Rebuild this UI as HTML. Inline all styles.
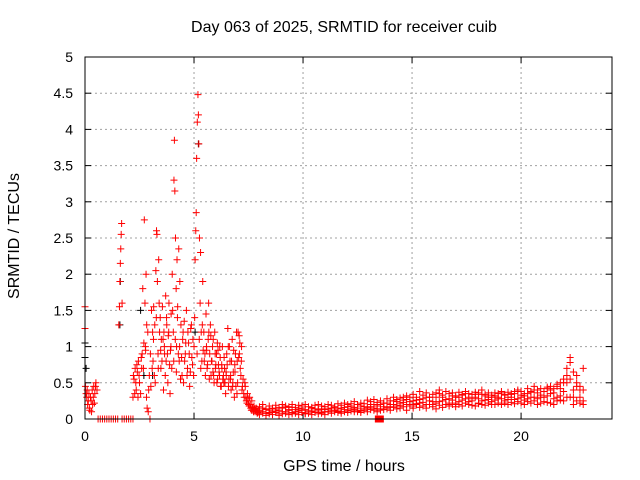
<!DOCTYPE html>
<html><head><meta charset="utf-8"><style>
body{margin:0;background:#fff}
svg{display:block;font-family:"Liberation Sans",sans-serif;font-size:14px}
</style></head><body>
<svg id="c" width="640" height="480"></svg>
<script>
const redT=[0,0,0.02,0.05,0.1,0.15,0.2,0.25,0.3,0.35,0.4,0.45,0.5,0.55,
0.6,0.7,0.8,0.9,1.0,1.1,1.2,1.3,1.4,1.5,1.7,1.8,1.9,2.0,2.1,2.2,
1.55,1.58,1.6,1.62,1.64,1.66,1.68,1.7,
2.2,2.25,2.3,2.35,2.4,2.45,2.5,2.55,2.6,
2.62,2.65,2.7,2.72,2.75,2.78,2.8,2.82,2.85,2.88,2.9,2.95,2.98,
3.02,3.05,3.1,3.12,3.15,3.18,3.2,3.25,3.28,3.3,3.32,3.35,3.38,3.4,3.45,3.48,3.5,
3.55,3.6,3.62,3.65,3.7,3.72,3.75,3.8,3.82,3.85,3.9,3.92,3.95,3.98,
4.0,4.05,4.08,4.1,4.12,4.15,4.18,4.2,4.22,4.25,4.3,4.32,4.35,4.4,4.45,4.48,
4.52,4.55,4.6,4.65,4.7,4.75,4.8,4.85,4.9,4.95,4.98,
5.0,5.05,5.08,5.1,5.12,5.15,5.18,5.2,5.22,5.25,5.28,5.3,5.33,5.36,5.4,
5.45,5.5,5.55,5.6,5.65,5.7,5.75,5.8,5.85,5.9,5.95,6.0,6.05,6.1,6.15,6.2,6.25,6.3,6.35,6.4,6.45,6.5,6.55,6.6,6.65,6.7,6.75,6.8,6.85,6.9,6.95,7.0,7.05,7.1,7.15,7.2,
5.47,5.57,5.67,5.77,5.87,5.97,6.07,6.17,6.27,6.37,6.47,6.57,6.67,6.77,6.87,6.97,7.07,7.17,
7.25,7.3,7.35,7.4,7.45,7.5,7.55,7.6,7.65,7.7,7.75,7.8,7.85,7.9,7.95];
const redV=[1.55,1.25,0.45,0.35,0.4,0.25,0.15,0.3,0.1,0.2,0.45,0.35,0.5,0.4,
0,0,0,0,0,0,0,0,0,0,0,0,0,0,0,0,
1.3,1.55,1.9,2.15,2.35,2.55,2.7,1.6,
0.3,0.55,0.7,0.4,0.65,0.8,0.5,0.35,0.7,
0.9,1.8,1.05,2.75,1.6,0.95,2.0,0.3,0.15,1.2,0.1,0.6,0.0,
0.45,1.5,1.2,0.8,1.55,0.6,1.3,2.05,2.6,2.55,1.9,0.9,2.2,1.6,1.4,0.7,1.1,
1.55,0.4,1.2,0.9,1.7,0.8,1.3,0.5,1.15,1.6,0.35,0.95,1.45,0.7,
2.0,1.2,3.3,3.85,3.15,2.5,1.8,1.0,2.2,1.55,2.35,0.8,1.9,1.3,0.6,1.1,
0.5,1.35,0.9,1.5,0.7,1.05,0.45,1.25,0.85,1.1,0.6,
1.0,2.2,2.6,2.85,3.6,4.1,4.48,4.2,3.8,2.5,1.6,2.3,1.2,0.8,1.9,
1.2,0.9,1.45,0.7,1.1,0.55,1.3,0.8,1.0,0.6,1.2,0.75,0.5,0.95,0.65,0.85,0.45,1.0,0.6,0.7,0.35,0.9,1.25,0.55,0.8,0.4,1.1,0.65,0.3,0.9,1.2,0.5,0.85,1.05,0.6,0.4,
0.8,1.0,1.6,1.15,0.65,0.9,1.05,0.6,0.75,0.5,0.65,1.0,0.55,0.45,0.75,0.35,1.15,0.8,
0.55,0.3,0.45,0.25,0.35,0.2,0.3,0.15,0.25,0.12,0.18,0.1,0.15,0.08,0.12];
const burstT=[0.08,0.12,0.18,0.22,0.28,0.33,0.38,0.43,0.48,2.22,2.28,2.33,2.38,2.43,2.48,2.58,2.68,2.77,2.83,2.92,3.0,3.08,3.14,3.22,3.27,3.36,3.42,3.47,3.53,3.58,3.64,3.68,3.74,3.78,3.84,3.88,3.94,4.02,4.07,4.14,4.19,4.24,4.28,4.34,4.38,4.43,4.5,4.57,4.62,4.68,4.72,4.78,4.83,4.88,4.93,5.03,5.14,5.24,5.31,5.38,5.42,5.52,5.58,5.62,5.68,5.72,5.78,5.82,5.88,5.92,5.98,6.03,6.08,6.12,6.18,6.22,6.28,6.32,6.38,6.42,6.48,6.52,6.58,6.62,6.68,6.72,6.78,6.82,6.88,6.92,6.98,7.02,7.08,7.12,7.18,7.22,7.28,7.33,7.38,7.43,7.48,7.53,7.58,7.63,7.68,7.73,7.78,7.83,7.88,7.93];
const burstV=[0.3,0.2,0.35,0.12,0.25,0.4,0.3,0.22,0.45,0.6,0.35,0.5,0.75,0.3,0.6,0.85,0.7,1.0,1.3,0.4,0.9,0.7,1.1,0.5,1.4,0.7,1.2,0.95,0.8,1.1,1.0,0.6,1.4,0.9,1.2,0.75,1.0,1.5,0.8,1.1,0.65,1.4,0.9,1.0,0.55,0.85,1.2,0.8,1.05,0.6,1.2,0.9,0.65,1.3,0.75,1.4,0.9,1.1,0.7,1.3,0.95,0.6,0.95,0.75,1.2,0.9,0.6,0.8,1.1,0.5,0.7,0.9,0.55,0.75,1.0,0.45,0.7,0.55,0.85,0.5,0.6,0.75,0.45,1.0,0.6,0.8,0.5,0.95,0.65,0.45,0.8,1.2,0.9,0.7,1.0,0.45,0.35,0.5,0.3,0.22,0.28,0.18,0.2,0.12,0.16,0.1,0.14,0.12,0.1,0.09];
const tailT=[8.0,8.15,8.3,8.45,8.6,8.75,8.9,9.05,9.2,9.35,9.5,9.65,9.8,9.95,10.1,10.25,10.4,10.55,10.7,10.85,11.0,11.15,11.3,11.45,11.6,11.75,11.9,12.05,12.2,12.35,12.5,12.65,12.8,12.95,13.1,13.25,13.4,13.55,13.7,13.85,14.0,14.15,14.3,14.45,14.6,14.75,14.9,15.05,15.2,15.35,15.5,15.65,15.8,15.95,16.1,16.25,16.4,16.55,16.7,16.85,17.0,17.15,17.3,17.45,17.6,17.75,17.9,18.05,18.2,18.35,18.5,18.65,18.8,18.95,19.1,19.25,19.4,19.55,19.7,19.85,20.0,20.15,20.3,20.45,20.6,20.75,20.9,21.05,21.2,21.35,21.5,21.65,21.8,21.95,22.1,22.25,22.4,22.55,22.7,22.85];
const tailV=[0.1,0.15,0.08,0.12,0.1,0.14,0.07,0.1,0.16,0.12,0.09,0.13,0.11,0.15,0.08,0.12,0.1,0.14,0.11,0.09,0.13,0.1,0.15,0.12,0.14,0.1,0.16,0.12,0.18,0.13,0.15,0.11,0.17,0.14,0.2,0.15,0.18,0.12,0.22,0.16,0.2,0.25,0.18,0.22,0.3,0.2,0.24,0.18,0.26,0.22,0.28,0.2,0.3,0.24,0.22,0.35,0.25,0.2,0.28,0.32,0.22,0.3,0.26,0.35,0.24,0.28,0.3,0.22,0.34,0.26,0.3,0.24,0.32,0.28,0.36,0.25,0.3,0.34,0.27,0.38,0.3,0.26,0.35,0.3,0.4,0.28,0.33,0.3,0.42,0.35,0.28,0.45,0.32,0.38,0.5,0.85,0.4,0.6,0.3,0.25];
const tailV2=[0.12,0.1,0.13,0.09,0.14,0.11,0.12,0.15,0.1,0.13,0.16,0.1,0.14,0.12,0.13,0.1,0.15,0.11,0.13,0.14,0.1,0.14,0.12,0.16,0.11,0.15,0.13,0.17,0.14,0.16,0.12,0.18,0.14,0.16,0.17,0.2,0.14,0.2,0.17,0.22,0.17,0.2,0.24,0.19,0.23,0.27,0.2,0.25,0.21,0.27,0.23,0.3,0.25,0.2,0.3,0.24,0.3,0.27,0.22,0.26,0.3,0.24,0.33,0.28,0.3,0.25,0.34,0.28,0.25,0.32,0.27,0.3,0.26,0.3,0.28,0.33,0.27,0.3,0.35,0.28,0.33,0.32,0.28,0.38,0.3,0.36,0.3,0.38,0.32,0.4,0.36,0.3,0.42,0.5,0.7,0.55,0.3,0.45,0.4,0.7];
const tailHi=[0.17,0.2,0.14,0.18,0.15,0.19,0.16,0.2,0.18,0.17,0.2,0.16,0.19,0.18,0.2,0.17,0.16,0.19,0.2,0.18,0.17,0.2,0.19,0.17,0.21,0.19,0.22,0.2,0.21,0.24,0.2,0.22,0.21,0.26,0.24,0.27,0.23,0.25,0.22,0.28,0.25,0.3,0.27,0.29,0.26,0.32,0.3,0.34,0.3,0.38,0.33,0.36,0.3,0.34,0.36,0.4,0.33,0.38,0.35,0.36,0.32,0.37,0.34,0.38,0.35,0.34,0.37,0.36,0.4,0.34,0.36,0.33,0.36,0.35,0.38,0.34,0.37,0.35,0.38,0.4,0.38,0.35,0.42,0.37,0.45,0.4,0.42,0.38,0.44,0.45,0.42,0.48,0.5,0.55,0.6,0.78,0.65,0.5,0.45,0.4];
const tailLo=[0.06,0.08,0.05,0.07,0.06,0.09,0.05,0.07,0.08,0.06,0.07,0.08,0.06,0.09,0.07,0.08,0.06,0.09,0.07,0.08,0.06,0.1,0.08,0.1,0.09,0.08,0.1,0.09,0.11,0.1,0.1,0.09,0.12,0.1,0.13,0.12,0.1,0.14,0.13,0.14,0.12,0.16,0.14,0.15,0.17,0.12,0.18,0.15,0.2,0.16,0.18,0.15,0.2,0.17,0.14,0.19,0.16,0.2,0.18,0.2,0.17,0.2,0.18,0.22,0.2,0.19,0.18,0.21,0.2,0.19,0.22,0.2,0.2,0.22,0.2,0.22,0.2,0.23,0.21,0.24,0.22,0.2,0.24,0.22,0.25,0.2,0.22,0.24,0.23,0.22,0.2,0.25,0.26,0.25,0.3,0.3,0.2,0.25,0.22,0.2];
const blackT=[0,0,0.05,1.6,1.62,2.55,2.7,3.1,5.2,5.05];
const blackV=[0.85,1.05,0.7,1.3,1.9,1.5,0.6,0.6,3.8,1.2];
const squareT=[13.5];
const squareV=[0];
const xTicks=[0,5,10,15,20];
const yTicks=[0,0.5,1,1.5,2,2.5,3,3.5,4,4.5,5];
const yTickLabels=["0","0.5","1","1.5","2","2.5","3","3.5","4","4.5","5"];

const L=85,R=612,T=57,B=419,XMAX=24.17,YMAX=5;
const X=v=>L+v/XMAX*(R-L), Y=v=>B-v/YMAX*(B-T);
const svg=document.getElementById('c'),NS='http://www.w3.org/2000/svg';
function mk(tag,at,parent){const e=document.createElementNS(NS,tag);for(const k in at)e.setAttribute(k,at[k]);(parent||svg).appendChild(e);return e;}
const grid=mk('g',{});


yTicks.forEach((t,i)=>{
  if(t>0&&t<YMAX){mk('line',{x1:L,x2:R,y1:Y(t),y2:Y(t),stroke:'#a0a0a0','stroke-dasharray':'2,3'},grid);}
  mk('line',{x1:L,x2:L+6,y1:Y(t),y2:Y(t),stroke:'#000'},grid);
  mk('line',{x1:R,x2:R-6,y1:Y(t),y2:Y(t),stroke:'#000'},grid);
  const tx=mk('text',{x:L-12,y:Y(t)+5,'text-anchor':'end'});
  
  
  tx.textContent=yTickLabels[i];
});
xTicks.forEach(t=>{
  if(t>0)mk('line',{x1:X(t),x2:X(t),y1:T,y2:B,stroke:'#a0a0a0','stroke-dasharray':'2,3'},grid);
  mk('line',{x1:X(t),x2:X(t),y1:B,y2:B-6,stroke:'#000'},grid);
  mk('line',{x1:X(t),x2:X(t),y1:T,y2:T+6,stroke:'#000'},grid);
  const tx=mk('text',{x:X(t),y:B+22,'text-anchor':'middle'});
  
  
  tx.textContent=t;
});
function plus(parent,t,v,col){mk('path',{d:`M${X(t)-3.5} ${Y(v)}h7M${X(t)} ${Y(v)-3.5}v7`,stroke:col,'stroke-width':1,fill:'none'},parent);}
const bl=mk('g',{});


blackT.forEach((t,i)=>plus(bl,t,blackV[i],'#000'));
const rd=mk('g',{});


redT.forEach((t,i)=>{if(i<redV.length)plus(rd,t,redV[i],'#f00');});
burstT.forEach((t,i)=>{if(i<burstV.length)plus(rd,t,burstV[i],'#f00');});
[tailV,tailV2,tailHi,tailLo].forEach(arr=>tailT.forEach((t,i)=>{if(i<arr.length)plus(rd,t,arr[i],'#f00');}));
squareT.forEach((t,i)=>{mk('rect',{x:X(t)-4.5,y:Y(squareV[i])-3.5,width:9,height:7,fill:'#f00'},rd);});
const fr=mk('rect',{x:L,y:T,width:R-L,height:B-T,fill:'none',stroke:'#000'});


const ti=mk('text',{x:344,y:32,'text-anchor':'middle','font-size':16});


ti.textContent='Day 063 of 2025, SRMTID for receiver cuib';
const xl=mk('text',{x:344,y:471,'text-anchor':'middle','font-size':16});


xl.textContent='GPS time / hours';
const yl=mk('text',{x:0,y:0,'text-anchor':'middle','font-size':16,transform:'translate(19,236) rotate(-90)'});


yl.textContent='SRMTID / TECUs';
</script>
</body></html>
